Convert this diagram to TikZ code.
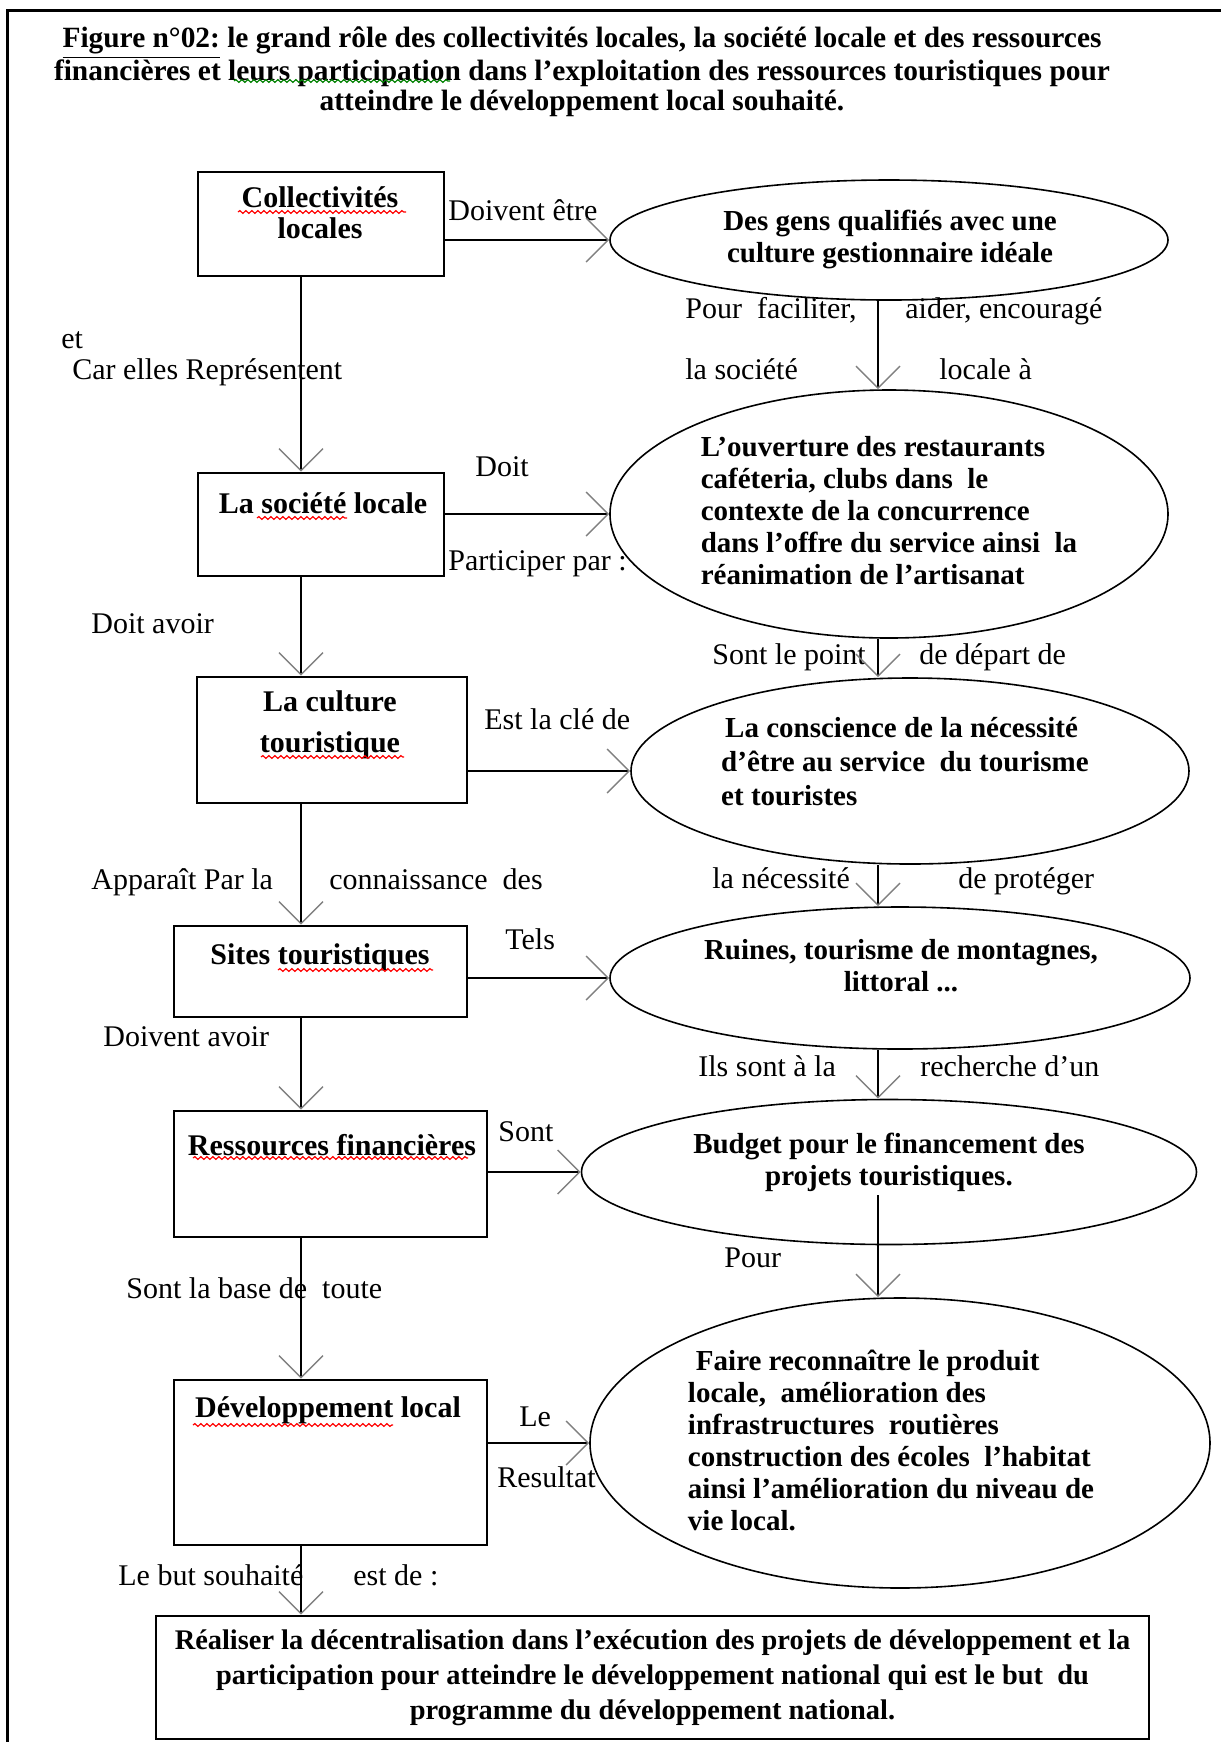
\documentclass[tikz,border=0pt]{standalone}
\usepackage{fontspec}
\setmainfont{Liberation Serif}
\usetikzlibrary{arrows.meta}
\usetikzlibrary{shapes.geometric}
\usetikzlibrary{decorations.pathmorphing}

\begin{document}
\begin{tikzpicture}[x=0.5pt,y=-0.5pt,
  boite/.style={draw,line width=1.3pt,inner sep=0pt},
  bulle/.style={draw,ellipse,line width=0.8pt,inner sep=0pt},
  gras/.style={inner sep=0pt,align=center,font=\bfseries\fontsize{15}{15.5}\selectfont},
  texte/.style={inner sep=0pt,align=left,font=\bfseries\fontsize{14.5}{16}\selectfont},
  etiq/.style={inner sep=0pt,anchor=mid west,yshift=-2.5pt,font=\fontsize{15}{17}\selectfont},
  faute/.style={line width=0.6pt,decorate,decoration={snake,amplitude=0.7pt,segment length=3pt}},
  fleche/.style={line width=1pt,-{Straight Barb[length=11pt,width=22pt,line width=0.7pt,color=gray]}}]
  \useasboundingbox (0,0) rectangle (1221,1742);
  \draw[line width=1.5pt](7,1742)--(7,10)--(1221,10);
  \node[gras,font=\bfseries\fontsize{14.7}{15}\selectfont] (0) at (582,72) {\underline{Figure n°02:} le grand rôle des collectivités locales, la société locale et des ressources\\financières et leurs participation dans l’exploitation des ressources touristiques pour\\atteindre le développement local souhaité.};
  \coordinate (g) at (301,0);
  \coordinate (d) at (878,0);

  \node[boite,minimum width=123pt,minimum height=52pt] (1) at (321,224) {};
  \node[boite,minimum width=123pt,minimum height=51.5pt] (2) at (321,524.5) {};
  \node[boite,minimum width=135pt,minimum height=63pt] (3) at (332,740) {};
  \node[boite,minimum width=146.5pt,minimum height=45.5pt] (4) at (320.5,971.5) {};
  \node[boite,minimum width=156.5pt,minimum height=63pt] (5) at (330.5,1174) {};
  \node[boite,minimum width=156.5pt,minimum height=82.5pt] (6) at (330.5,1462.5) {};
  \node[boite,gras,minimum width=496.5pt,minimum height=61.5pt,font=\bfseries\fontsize{14.2}{17.5}\selectfont] (7) at (652.5,1677.5) {Réaliser la décentralisation dans l’exécution des projets de développement et la\\participation pour atteindre le développement national qui est le but\ \ du\\programme du développement national.};

  \node[gras] (1t) at (320,212.5) {Collectivités\\locales};
  \node[gras] (2t) at (323,503) {La société locale};
  \node[gras,font=\bfseries\fontsize{15}{20.5}\selectfont] (3t) at (330,724.5) {La culture\\touristique};
  \node[gras] (4t) at (320,957) {Sites touristiques};
  \node[gras] (5t) at (332,1145) {Ressources financières};
  \node[gras] (6t) at (328,1410) {Développement local};

  \node[bulle,minimum width=279pt,minimum height=60pt] (11) at (889,240) {};
  \node[bulle,minimum width=279pt,minimum height=124pt] (12) at (889,514) {};
  \node[bulle,minimum width=279pt,minimum height=93pt] (13) at (910,771) {};
  \node[bulle,minimum width=290pt,minimum height=71pt] (14) at (900,978) {};
  \node[bulle,minimum width=307.5pt,minimum height=72.5pt] (15) at (889,1172) {};
  \node[bulle,minimum width=310pt,minimum height=145pt] (16) at (900,1443) {};

  \node[texte,align=center] (11t) at (890,239) {Des gens qualifiés avec une\\culture gestionnaire idéale};
  \node[texte] (12t) at (889,510.5) {L’ouverture des restaurants\\caféteria, clubs dans\ \ le\\contexte de la concurrence\\dans l’offre du service ainsi\ \ la\\réanimation de l’artisanat};
  \node[texte,font=\bfseries\fontsize{14.5}{17}\selectfont] (13t) at (905,762) {\hspace{2pt}La conscience de la nécessité\\d’être au service\ \ du tourisme\\et touristes};
  \node[texte,align=center] (14t) at (901,966) {Ruines, tourisme de montagnes,\\littoral ...};
  \node[texte,align=center] (15t) at (889,1162) {Budget pour le financement des\\projets touristiques.};
  \node[texte] (16t) at (891,1440) {\hspace{4pt}Faire reconnaître le produit\\locale,\ \ amélioration des\\infrastructures\ \ routières\\construction des écoles\ \ l’habitat\\ainsi l’amélioration du niveau de\\vie local.};

  \node[etiq] (l1) at (448,211) {Doivent être};
  \node[etiq] (l2) at (61,339) {et};
  \node[etiq] (l3) at (72,370) {Car elles Représentent};
  \node[etiq] (l4) at (475,467) {Doit};
  \node[etiq] (l5) at (448,561) {Participer par :};
  \node[etiq] (l6) at (685,309) {Pour\ \ faciliter,};
  \node[etiq] (l7) at (905,309) {aider, encouragé};
  \node[etiq] (l8) at (685,370) {la société};
  \node[etiq] (l9) at (939,370) {locale à};
  \node[etiq] (l10) at (91,624) {Doit avoir};
  \node[etiq] (l11) at (712,655) {Sont le point};
  \node[etiq] (l12) at (919,655) {de départ de};
  \node[etiq] (l13) at (484,720) {Est la clé de};
  \node[etiq] (l14) at (91,880) {Apparaît Par la};
  \node[etiq] (l15) at (329,880) {connaissance\ \ des};
  \node[etiq] (l16) at (712,879) {la nécessité};
  \node[etiq] (l17) at (958,879) {de protéger};
  \node[etiq] (l18) at (505,940) {Tels};
  \node[etiq] (l19) at (103,1037) {Doivent avoir};
  \node[etiq] (l20) at (698,1067) {Ils sont à la};
  \node[etiq] (l21) at (920,1067) {recherche d’un};
  \node[etiq] (l22) at (498,1132) {Sont};
  \node[etiq] (l23) at (724,1258) {Pour};
  \node[etiq] (l24) at (126,1289) {Sont la base de\ \ toute};
  \node[etiq] (l25) at (519,1417) {Le};
  \node[etiq] (l26) at (497,1478) {Resultat};
  \node[etiq] (l27) at (118,1576) {Le but souhaité};
  \node[etiq] (l28) at (353,1576) {est de :};

  \draw[faute,red](238,212)--(406,212);
  \draw[faute,red](257,518)--(347,518);
  \draw[faute,red](261,757)--(404,757);
  \draw[faute,red](278,970)--(433,970);
  \draw[faute,red](193,1158)--(468,1158);
  \draw[faute,red](193,1425)--(393,1425);
  \draw[faute,green!50!black](234,81)--(450,81);

  \draw[fleche](11.west -| 1.east)--(11.west);
  \draw[fleche](12.west -| 2.east)--(12.west);
  \draw[fleche](13.west -| 3.east)--(13.west);
  \draw[fleche](14.west -| 4.east)--(14.west);
  \draw[fleche](15.west -| 5.east)--(15.west);
  \draw[fleche](16.west -| 6.east)--(16.west);

  \draw[fleche](1.south -| g)--(2.north -| g);
  \draw[fleche](2.south -| g)--(3.north -| g);
  \draw[fleche](3.south -| g)--(4.north -| g);
  \draw[fleche](4.south -| g)--(5.north -| g);
  \draw[fleche](5.south -| g)--(6.north -| g);
  \draw[fleche](6.south -| g)--(7.north -| g);

  \draw[fleche](11.south -| d)--(12.north -| d);
  \draw[fleche](12.south -| d)--(13.north -| d);
  \draw[fleche](13.south -| d)--(14.north -| d);
  \draw[fleche](14.south -| d)--(15.north -| d);
  \path (15.center -| d) ++(0,23) coordinate (d5);
  \draw[fleche](d5)--(16.north -| d);
\end{tikzpicture}
\end{document}
